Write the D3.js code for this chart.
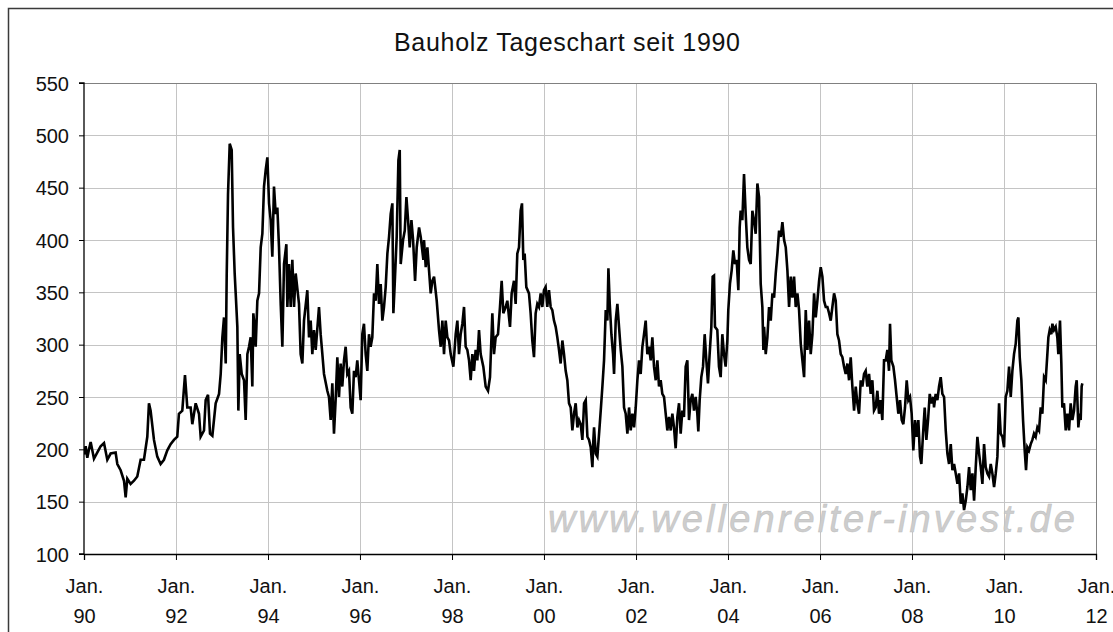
<!DOCTYPE html>
<html>
<head>
<meta charset="utf-8">
<script src="https://cdn.jsdelivr.net/npm/d3@7/dist/d3.min.js"></script>
<style>
  body { margin: 0; background: #fff; }
  svg { display: block; font-family: "Liberation Sans", Arial, sans-serif; }
</style>
</head>
<body>
<script>
// Bauholz (lumber) daily close: [decimal year, price]
var prices_1990_93 = [
  [1990.000,195],[1990.036,203],[1990.072,192],[1990.109,200],[1990.145,207],[1990.217,191],[1990.290,197],
  [1990.362,203],[1990.435,206],[1990.507,190],[1990.580,196],[1990.688,197],[1990.725,186],[1990.797,180],
  [1990.870,170],[1990.906,154],[1990.942,172],[1991.014,167],[1991.087,170],[1991.159,174],[1991.232,190],
  [1991.304,190],[1991.377,212],[1991.413,244],[1991.449,237],[1991.522,209],[1991.594,193],[1991.667,186],
  [1991.739,190],[1991.812,199],[1991.884,205],[1991.957,209],[1992.029,212],[1992.065,234],[1992.138,237],
  [1992.196,271],[1992.246,240],[1992.319,240],[1992.355,224],[1992.428,244],[1992.500,234],[1992.536,212],
  [1992.609,218],[1992.645,247],[1992.696,252],[1992.739,215],[1992.790,213],[1992.862,244],[1992.935,253],
  [1992.971,272],[1993.007,307],[1993.043,326],[1993.080,282],[1993.101,365],[1993.130,444],[1993.167,492],
  [1993.210,486],[1993.239,412],[1993.275,368],[1993.297,349],[1993.333,317],[1993.355,237],[1993.384,291],
  [1993.428,272],[1993.478,266],[1993.514,228],[1993.551,291],[1993.587,298],[1993.623,307],[1993.659,260],
  [1993.681,330]
];
var prices_1993_97 = [
  [1993.696,323],[1993.732,298],[1993.768,342],[1993.805,349],[1993.841,393],[1993.877,406],[1993.913,451],
  [1993.950,467],[1993.986,479],[1994.022,435],[1994.058,419],[1994.094,384],[1994.130,451],[1994.167,425],
  [1994.203,431],[1994.239,393],[1994.276,339],[1994.312,298],[1994.348,377],[1994.399,396],[1994.421,336],
  [1994.457,377],[1994.493,336],[1994.529,381],[1994.566,336],[1994.602,368],[1994.674,339],[1994.710,291],
  [1994.747,282],[1994.783,323],[1994.855,352],[1994.892,307],[1994.928,323],[1994.964,291],[1995.000,314],
  [1995.037,295],[1995.109,336],[1995.145,310],[1995.182,291],[1995.218,272],[1995.290,256],[1995.326,250],
  [1995.363,228],[1995.399,263],[1995.435,215],[1995.471,247],[1995.508,288],[1995.544,250],[1995.580,282],
  [1995.616,260],[1995.653,285],[1995.689,298],[1995.725,272],[1995.761,275],[1995.798,240],[1995.834,234],
  [1995.870,275],[1995.906,269],[1995.942,285],[1995.979,266],[1996.015,247],[1996.051,310],[1996.087,320],
  [1996.124,291],[1996.160,275],[1996.196,310],[1996.232,298],[1996.268,307],[1996.305,349],[1996.341,342],
  [1996.377,377],[1996.413,339],[1996.450,358],[1996.486,323],[1996.522,336],[1996.558,355],[1996.595,387],
  [1996.631,403],[1996.667,425],[1996.703,435],[1996.725,330],[1996.754,358],[1996.797,403],[1996.834,476],
  [1996.863,486],[1996.884,377],[1996.935,400],[1996.972,409],[1997.008,441],[1997.044,419],[1997.080,393],
  [1997.117,419],[1997.153,400],[1997.196,361],[1997.232,393],[1997.283,412],[1997.319,403],[1997.377,381]
];
var prices_1997_01 = [
  [1997.391,400],[1997.428,374],[1997.464,393],[1997.500,371],[1997.536,349],[1997.572,361],[1997.609,365],
  [1997.667,342],[1997.717,314],[1997.754,298],[1997.790,323],[1997.826,291],[1997.862,323],[1997.899,307],
  [1997.935,304],[1997.971,291],[1998.029,279],[1998.080,310],[1998.116,323],[1998.152,291],[1998.188,310],
  [1998.225,320],[1998.261,336],[1998.297,298],[1998.333,295],[1998.370,285],[1998.406,266],[1998.442,291],
  [1998.478,275],[1998.514,295],[1998.551,285],[1998.587,314],[1998.623,291],[1998.681,279],[1998.732,260],
  [1998.783,256],[1998.826,269],[1998.877,330],[1998.913,291],[1998.949,307],[1999.000,310],[1999.043,336],
  [1999.080,361],[1999.116,330],[1999.167,336],[1999.203,342],[1999.261,317],[1999.297,349],[1999.348,361],
  [1999.384,339],[1999.420,387],[1999.457,393],[1999.493,428],[1999.522,435],[1999.551,381],[1999.580,387],
  [1999.616,355],[1999.674,349],[1999.710,330],[1999.746,304],[1999.783,288],[1999.819,330],[1999.855,339],
  [1999.891,336],[1999.928,349],[1999.964,336],[2000.000,352],[2000.036,355],[2000.072,336],[2000.109,352],
  [2000.145,336],[2000.181,333],[2000.217,323],[2000.254,317],[2000.290,307],[2000.326,295],[2000.362,282],
  [2000.399,304],[2000.435,291],[2000.471,275],[2000.507,266],[2000.543,244],[2000.580,240],[2000.616,218],
  [2000.652,234],[2000.688,244],[2000.725,221],[2000.761,228],[2000.797,224],[2000.833,209],[2000.870,244],
  [2000.906,247],[2000.942,212],[2000.978,209],[2001.014,202],[2001.051,183],[2001.072,209]
];
var prices_2001_04 = [
  [2001.087,221],[2001.123,196],[2001.159,193],[2001.196,215],[2001.232,237],[2001.268,260],[2001.304,285],
  [2001.341,333],[2001.377,323],[2001.399,373],[2001.428,339],[2001.464,310],[2001.500,291],[2001.522,272],
  [2001.558,323],[2001.594,339],[2001.630,317],[2001.667,295],[2001.703,279],[2001.739,240],[2001.775,234],
  [2001.812,215],[2001.848,240],[2001.884,218],[2001.920,234],[2001.957,221],[2001.993,240],[2002.029,266],
  [2002.065,285],[2002.101,272],[2002.138,298],[2002.174,310],[2002.210,323],[2002.246,291],[2002.283,298],
  [2002.319,285],[2002.355,307],[2002.391,279],[2002.428,266],[2002.464,285],[2002.500,260],[2002.536,266],
  [2002.572,253],[2002.609,250],[2002.645,234],[2002.681,218],[2002.717,231],[2002.754,218],[2002.790,234],
  [2002.826,221],[2002.862,201],[2002.899,231],[2002.935,244],[2002.971,215],[2003.007,237],[2003.043,231],
  [2003.080,279],[2003.116,285],[2003.152,228],[2003.188,247],[2003.225,253],[2003.261,237],[2003.297,250],
  [2003.333,234],[2003.355,217],[2003.384,247],[2003.420,269],[2003.457,279],[2003.493,310],[2003.529,285],
  [2003.565,263],[2003.601,291],[2003.638,317],[2003.667,365],[2003.696,366],[2003.717,317],[2003.768,314],
  [2003.804,279],[2003.841,269],[2003.877,310],[2003.913,291],[2003.949,279],[2003.986,304],[2004.007,333],
  [2004.043,358],[2004.080,371],[2004.116,390],[2004.152,377],[2004.188,381],[2004.225,352],[2004.254,412],
  [2004.275,428],[2004.312,419],[2004.348,463],[2004.384,425],[2004.420,393],[2004.457,381],[2004.493,377],
  [2004.529,428],[2004.565,419],[2004.601,406],[2004.638,454],[2004.674,441],[2004.710,358],[2004.746,336],
  [2004.768,295]
];
var prices_2004_08 = [
  [2004.783,317],[2004.819,291],[2004.855,307],[2004.891,336],[2004.928,323],[2004.964,349],[2005.000,345],
  [2005.036,368],[2005.073,387],[2005.109,409],[2005.145,403],[2005.181,417],[2005.218,400],[2005.254,393],
  [2005.290,371],[2005.326,336],[2005.363,365],[2005.399,345],[2005.435,365],[2005.471,336],[2005.508,349],
  [2005.544,333],[2005.580,301],[2005.616,285],[2005.653,269],[2005.689,333],[2005.725,295],[2005.761,323],
  [2005.797,291],[2005.834,310],[2005.870,349],[2005.906,326],[2005.942,342],[2005.979,361],[2006.015,374],
  [2006.051,365],[2006.087,342],[2006.124,336],[2006.160,336],[2006.196,330],[2006.232,323],[2006.268,336],
  [2006.305,349],[2006.341,342],[2006.377,310],[2006.413,304],[2006.450,291],[2006.486,288],[2006.522,279],
  [2006.558,272],[2006.595,282],[2006.631,266],[2006.667,288],[2006.703,260],[2006.740,237],[2006.776,260],
  [2006.812,244],[2006.848,234],[2006.885,266],[2006.921,260],[2006.957,272],[2006.993,275],[2007.029,260],
  [2007.066,272],[2007.102,253],[2007.138,266],[2007.174,237],[2007.210,240],[2007.247,256],[2007.283,234],
  [2007.319,247],[2007.355,228],[2007.392,285],[2007.428,285],[2007.464,295],[2007.500,275],[2007.522,320],
  [2007.551,285],[2007.595,279],[2007.631,266],[2007.667,250],[2007.703,234],[2007.740,247],[2007.776,228],
  [2007.812,224],[2007.848,240],[2007.885,266],[2007.921,247],[2007.957,250],[2007.993,234],[2008.029,199],
  [2008.066,228],[2008.102,212],[2008.138,228],[2008.174,193],[2008.203,186],[2008.240,215],[2008.276,240],
  [2008.312,209],[2008.348,228],[2008.385,253],[2008.421,244],[2008.464,250]
];
var prices_2008_11 = [
  [2008.478,240],[2008.514,253],[2008.551,247],[2008.587,260],[2008.623,269],[2008.659,253],[2008.696,250],
  [2008.732,218],[2008.768,196],[2008.804,186],[2008.841,205],[2008.877,180],[2008.913,186],[2008.949,177],
  [2008.986,167],[2009.022,177],[2009.058,148],[2009.094,158],[2009.130,142],[2009.167,151],[2009.203,164],
  [2009.239,183],[2009.275,161],[2009.312,177],[2009.348,151],[2009.384,183],[2009.420,212],[2009.457,196],
  [2009.493,183],[2009.529,167],[2009.565,205],[2009.601,183],[2009.638,177],[2009.674,174],[2009.710,186],
  [2009.746,177],[2009.783,164],[2009.819,177],[2009.855,193],[2009.891,244],[2009.927,215],[2009.964,212],
  [2010.000,202],[2010.036,250],[2010.072,256],[2010.109,279],[2010.145,250],[2010.181,275],[2010.217,291],
  [2010.254,301],[2010.290,323],[2010.312,326],[2010.341,288],[2010.377,266],[2010.413,228],[2010.449,199],
  [2010.478,180],[2010.507,202],[2010.543,199],[2010.580,205],[2010.616,209],[2010.652,215],[2010.688,212],
  [2010.725,221],[2010.761,218],[2010.797,240],[2010.833,234],[2010.870,269],[2010.906,266],[2010.942,291],
  [2010.964,307],[2010.993,314],[2011.029,310],[2011.051,320],[2011.087,314],[2011.123,317],[2011.159,307],
  [2011.181,291],[2011.217,323],[2011.246,282],[2011.268,240],[2011.304,244],[2011.341,218],[2011.377,234],
  [2011.413,218],[2011.449,244],[2011.486,228],[2011.522,237],[2011.558,260],[2011.580,266],[2011.616,221],
  [2011.645,234],[2011.667,228],[2011.688,260],[2011.703,263]
];

var title = "Bauholz Tageschart seit 1990";
var watermark = "www.wellenreiter-invest.de";
var yTicks = [100, 150, 200, 250, 300, 350, 400, 450, 500, 550];
var xTickYears = [1990, 1992, 1994, 1996, 1998, 2000, 2002, 2004, 2006, 2008, 2010, 2012];
var xTickLabels = ["90", "92", "94", "96", "98", "00", "02", "04", "06", "08", "10", "12"];

var W = 1113, H = 632;
var margin = {left: 84, top: 83, right: 17, bottom: 78};
var pw = W - margin.left - margin.right;
var ph = H - margin.top - margin.bottom;

function toDate(yf) {
  var yr = Math.floor(yf);
  var a = new Date(yr, 0, 1), b = new Date(yr + 1, 0, 1);
  return new Date(+a + (yf - yr) * (b - a));
}

var data = [].concat(prices_1990_93, prices_1993_97, prices_1997_01,
                     prices_2001_04, prices_2004_08, prices_2008_11)
  .map(function (d) { return {date: toDate(d[0]), value: d[1]}; });

var svg = d3.select("body").append("svg")
  .attr("width", W)
  .attr("height", H);

// outer frame (runs off the bottom/right edge like the screenshot)
svg.append("rect")
  .attr("x", 8.5).attr("y", 8.5)
  .attr("width", W + 20).attr("height", H + 20)
  .attr("fill", "#fff")
  .attr("stroke", "#3a3a3a")
  .attr("stroke-width", 1.5);

svg.append("text")
  .attr("x", 567).attr("y", 51)
  .attr("text-anchor", "middle")
  .attr("font-size", 25)
  .attr("textLength", 346)
  .attr("fill", "#111")
  .text(title);

var x = d3.scaleTime()
  .domain([new Date(1990, 0, 1), new Date(2012, 0, 1)])
  .range([0, pw]);
var y = d3.scaleLinear()
  .domain([100, 550])
  .range([ph, 0]);

var g = svg.append("g")
  .attr("transform", "translate(" + margin.left + "," + margin.top + ")");

// grid
g.append("g").selectAll("line.h")
  .data(yTicks.slice(1, -1)).enter().append("line")
  .attr("x1", 0).attr("x2", pw)
  .attr("y1", function (d) { return Math.round(y(d)) + 0.5; })
  .attr("y2", function (d) { return Math.round(y(d)) + 0.5; })
  .attr("stroke", "#c4c4c4");
g.append("g").selectAll("line.v")
  .data(xTickYears.slice(1, -1)).enter().append("line")
  .attr("y1", 0).attr("y2", ph)
  .attr("x1", function (d) { return Math.round(x(new Date(d, 0, 1))) + 0.5; })
  .attr("x2", function (d) { return Math.round(x(new Date(d, 0, 1))) + 0.5; })
  .attr("stroke", "#c4c4c4");

// plot frame top/right
g.append("path")
  .attr("d", "M0,0.5H" + (pw + 0.5) + "V" + ph)
  .attr("fill", "none")
  .attr("stroke", "#808080");

// watermark
g.append("text")
  .attr("x", 548 - margin.left)
  .attr("y", 532 - margin.top)
  .attr("font-size", 38)
  .attr("font-style", "italic")
  .attr("textLength", 527)
  .attr("lengthAdjust", "spacing")
  .attr("fill", "#cdcdcd")
  .attr("stroke", "#bdbdbd")
  .attr("stroke-width", 0.5)
  .text(watermark);

g.append("clipPath").attr("id", "clip")
  .append("rect").attr("width", pw).attr("height", ph);

var line = d3.line()
  .x(function (d) { return x(d.date); })
  .y(function (d) { return y(d.value); });

g.append("path")
  .datum(data)
  .attr("clip-path", "url(#clip)")
  .attr("d", line)
  .attr("fill", "none")
  .attr("stroke", "#000")
  .attr("stroke-width", 2.6)
  .attr("stroke-linejoin", "miter");

// axes
var yAxis = g.append("g")
  .call(d3.axisLeft(y).tickValues(yTicks).tickSize(5).tickPadding(10));
var xAxis = g.append("g")
  .attr("transform", "translate(0," + ph + ")")
  .call(d3.axisBottom(x)
    .tickValues(xTickYears.map(function (d) { return new Date(d, 0, 1); }))
    .tickSize(6));

[yAxis, xAxis].forEach(function (a) {
  a.select(".domain").attr("stroke", "#000").attr("stroke-width", 1.3);
  a.selectAll(".tick line").attr("stroke", "#000");
  a.selectAll("text").attr("font-family", "'Liberation Sans', Arial, sans-serif")
    .attr("font-size", 20).attr("fill", "#111");
});
yAxis.select(".domain").attr("d", "M-5," + ph + "H0V0H-5");
yAxis.selectAll(".tick text").attr("dy", "0.36em");

xAxis.selectAll(".tick text").each(function (d, i) {
  var t = d3.select(this).text(null).attr("y", 0).attr("dy", null);
  t.append("tspan").attr("x", 0).attr("y", 39).text("Jan.");
  t.append("tspan").attr("x", 0).attr("y", 69).text(xTickLabels[i]);
});
</script>
</body>
</html>
